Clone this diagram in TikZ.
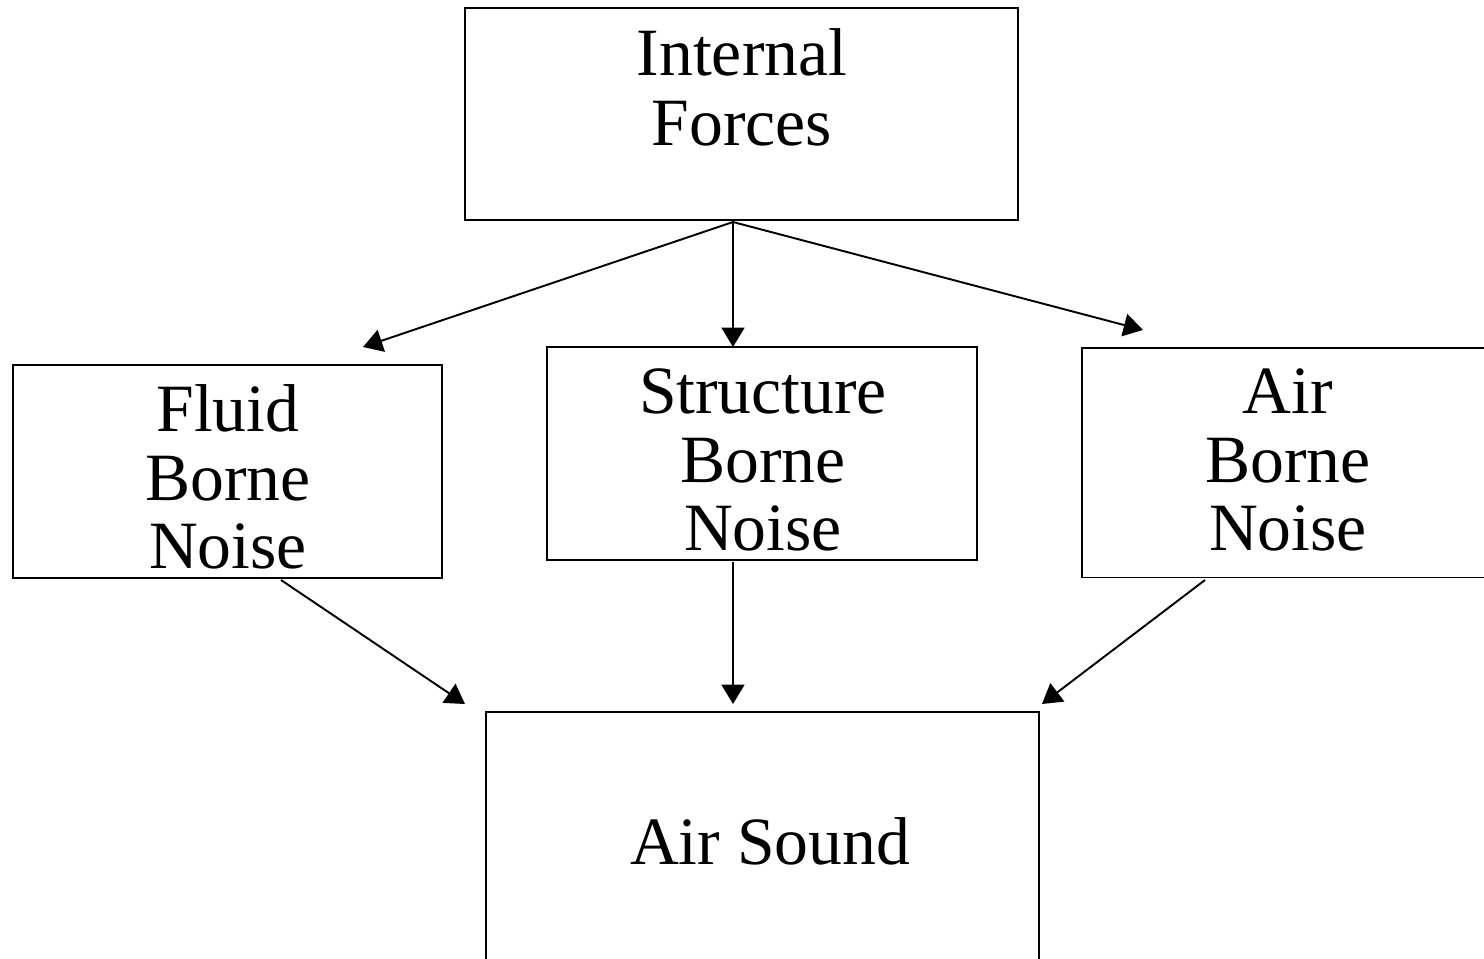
\documentclass[tikz,border=0pt]{standalone}
\usepackage{fontspec}
\setmainfont{Liberation Serif}
\usetikzlibrary{arrows.meta}
\begin{document}
\begin{tikzpicture}[x=0.02cm,y=-0.02cm,
  box/.style={draw,line width=1.1pt,inner sep=0pt,outer sep=0pt,rectangle},
  lbl/.style={inner sep=0pt,anchor=base,font=\fontsize{38.5}{40}\selectfont},
  arr/.style={line width=1.1pt,-{Triangle[length=11pt,width=13pt]}}]
\useasboundingbox (0,0) rectangle (1484,958);
\clip (0,0) rectangle (1484,958);
% boxes
\node[box,minimum width=11.06cm,minimum height=4.24cm] (top) at (741.5,114) {};
\node[box,minimum width=8.58cm,minimum height=4.26cm] (fluid) at (227.5,471.5) {};
\node[box,minimum width=8.6cm,minimum height=4.26cm] (struct) at (762,453.5) {};
\node[box,minimum width=8.6cm,minimum height=4.6cm] (air) at (1297,462.5) {};
\node[box,minimum width=11.06cm,minimum height=6cm] (sound) at (762.5,862) {};
% labels
\node[lbl] (t1) at (742,75) {Internal};
\node[lbl] (t2) at (742,145) {Forces};
\node[lbl] (f1) at (228,431) {Fluid};
\node[lbl] (f2) at (228,500) {Borne};
\node[lbl] (f3) at (228,568) {Noise};
\node[lbl] (s1) at (763,413) {Structure};
\node[lbl] (s2) at (763,482) {Borne};
\node[lbl] (s3) at (763,550) {Noise};
\node[lbl] (a1) at (1288,413) {Air};
\node[lbl] (a2) at (1288,482) {Borne};
\node[lbl] (a3) at (1288,550) {Noise};
\node[lbl] (w1) at (770,864) {Air Sound};
% connector points
\coordinate (o) at (733,222);
\coordinate (fIn) at (363,347);
\coordinate (sIn) at (733,347);
\coordinate (aIn) at (1143,330);
\coordinate (fOut) at (281,580);
\coordinate (sOut) at (733,562);
\coordinate (aOut) at (1205,580);
\coordinate (wL) at (465,704);
\coordinate (wM) at (733,704);
\coordinate (wR) at (1042,704);
% connectors
\draw[arr] (o) -- (fIn);
\draw[arr] (o) -- (sIn);
\draw[arr] (o) -- (aIn);
\draw[arr] (fOut) -- (wL);
\draw[arr] (sOut) -- (wM);
\draw[arr] (aOut) -- (wR);
\end{tikzpicture}
\end{document}
